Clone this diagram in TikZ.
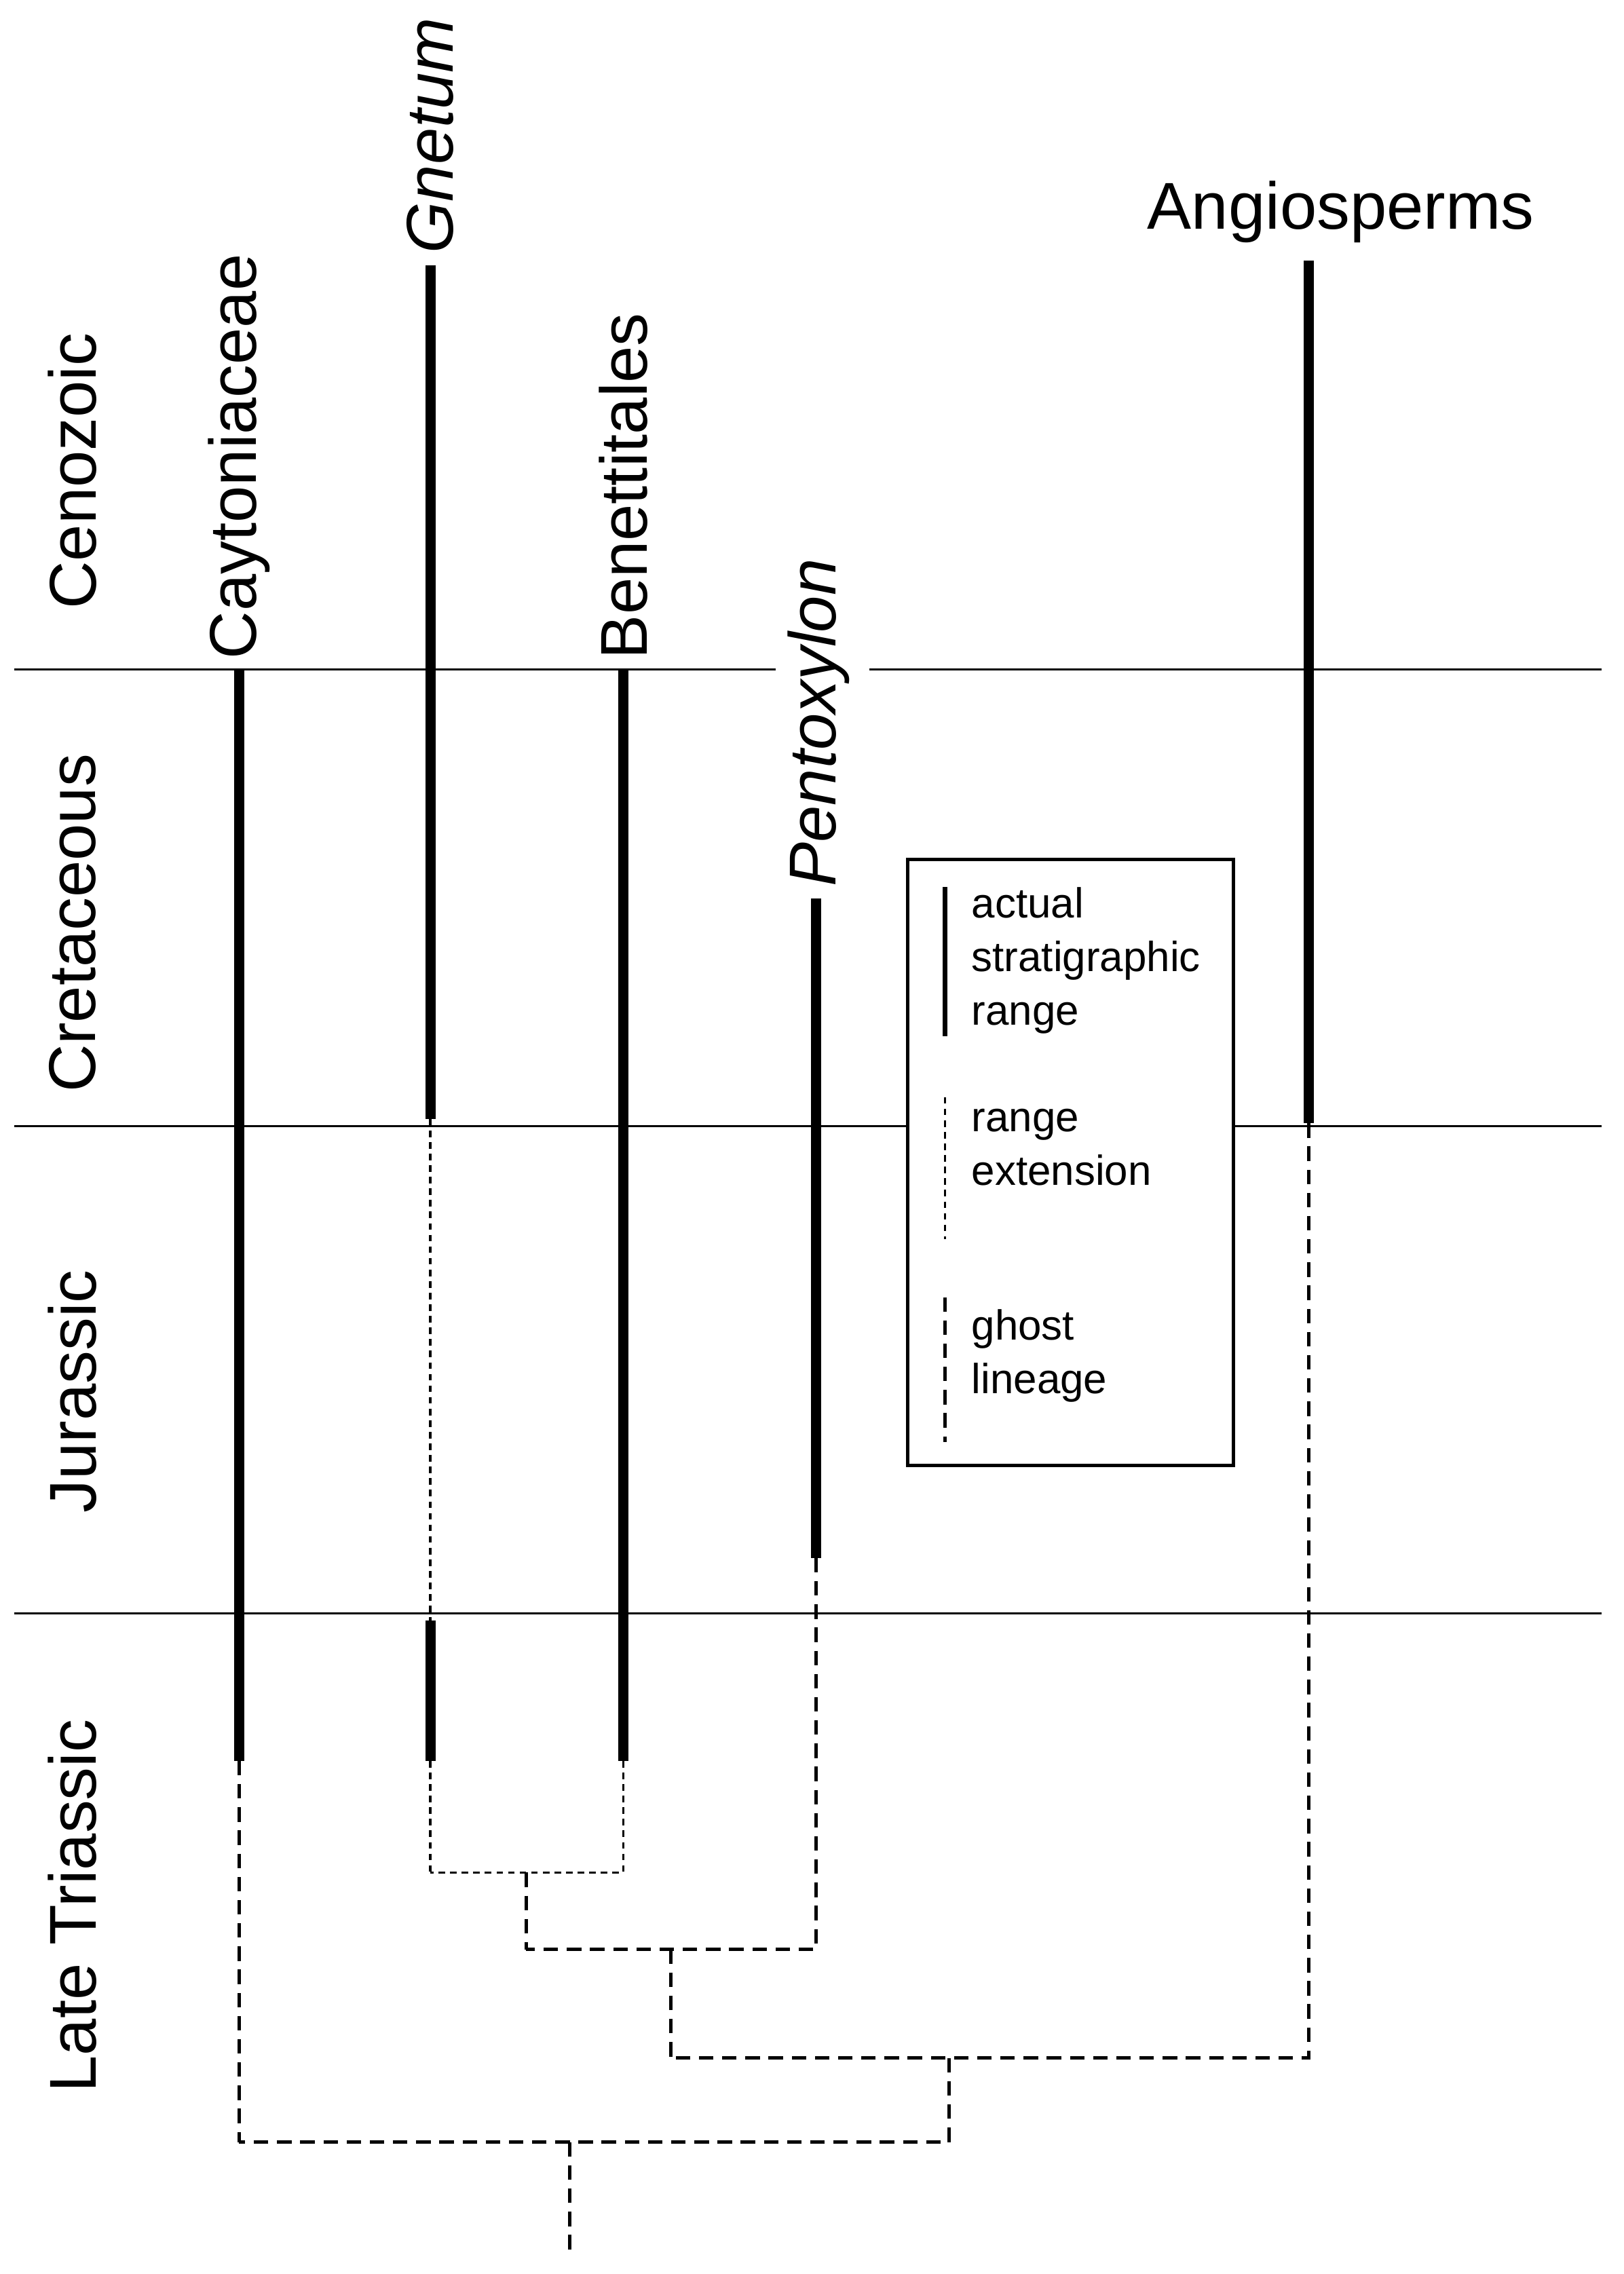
\documentclass[tikz,border=0pt]{standalone}
\usepackage{fontspec}
\setmainfont{Liberation Sans}
\begin{document}
\begin{tikzpicture}[x={(0.02cm,0)},y={(0,-0.02cm)},
 strat/.style={line width=4pt},
 extline/.style={line width=1pt,dash pattern=on 0.09cm off 0.07cm},
 ghostline/.style={line width=1.3pt,dash pattern=on 0.2cm off 0.12cm},
 eraline/.style={line width=0.8pt},
 lab/.style={font=\fontsize{26}{30}\selectfont,inner sep=0pt},
 leg/.style={font=\fontsize{16.5}{21}\selectfont,align=left,anchor=north west,inner sep=0pt}]
\useasboundingbox (0,0) rectangle (1120,1569);
\coordinate (e1a) at (10,462); \coordinate (e1b) at (535,462);
\coordinate (e1c) at (600,462); \coordinate (e1d) at (1105,462);
\coordinate (e2a) at (10,777); \coordinate (e2b) at (625,777);
\coordinate (e2c) at (850,777); \coordinate (e2d) at (1105,777);
\coordinate (e3a) at (10,1113); \coordinate (e3b) at (1105,1113);
\draw[eraline] (e1a)--(e1b) (e1c)--(e1d) (e2a)--(e2b) (e2c)--(e2d) (e3a)--(e3b);
\node[lab,rotate=90] (cen) at (50,325) {Cenozoic};
\node[lab,rotate=90] (cre) at (50,637) {Cretaceous};
\node[lab,rotate=90] (jur) at (50,960) {Jurassic};
\node[lab,rotate=90] (ltr) at (50,1315) {Late Triassic};
\node[lab,rotate=90,anchor=west] (cay) at (165,455) {Caytoniaceae};
\coordinate (c1) at (165,462); \coordinate (c2) at (165,1215); \coordinate (c3) at (165,1478);
\draw[strat] (c1)--(c2);
\draw[ghostline] (c2)--(c3);
\node[lab,rotate=90,anchor=west] (gne) at (297,175) {\itshape Gnetum};
\coordinate (g1) at (297,183); \coordinate (g2) at (297,772); \coordinate (g3) at (297,1118);
\coordinate (g4) at (297,1215); \coordinate (g5) at (297,1292);
\draw[strat] (g1)--(g2) (g3)--(g4);
\draw[extline] (g2)--(g3) (g4)--(g5);
\node[lab,rotate=90,anchor=west] (ben) at (430,455) {Benettitales};
\coordinate (b1) at (430,462); \coordinate (b2) at (430,1215); \coordinate (b3) at (430,1292);
\draw[strat] (b1)--(b2);
\draw[extline] (b2)--(b3)--(g5);
\coordinate (n1) at (363,1292); \coordinate (n1b) at (363,1345);
\draw[ghostline] (n1)--(n1b);
\node[lab,rotate=90,anchor=west] (pen) at (565,612) {\itshape Pentoxylon};
\coordinate (p1) at (563,620); \coordinate (p2) at (563,1075); \coordinate (p3) at (563,1345);
\draw[strat] (p1)--(p2);
\draw[ghostline] (p2)--(p3)--(n1b);
\coordinate (n2) at (463,1345); \coordinate (n2b) at (463,1420);
\draw[ghostline] (n2)--(n2b);
\node[lab,anchor=south] (ang) at (925,168) {Angiosperms};
\coordinate (a1) at (903,180); \coordinate (a2) at (903,775); \coordinate (a3) at (903,1420);
\draw[strat] (a1)--(a2);
\draw[ghostline] (a2)--(a3)--(n2b);
\coordinate (n3) at (655,1420); \coordinate (n3b) at (655,1478);
\draw[ghostline] (n3)--(n3b)--(c3);
\coordinate (r1) at (393,1478); \coordinate (r2) at (393,1555);
\draw[ghostline] (r1)--(r2);
\node[draw,line width=1.3pt,minimum width=4.5cm,minimum height=8.36cm,anchor=north west,inner sep=0pt] (box) at (625,592) {};
\coordinate (l1) at (652,612); \coordinate (l2) at (652,715);
\coordinate (l3) at (652,757); \coordinate (l4) at (652,855);
\coordinate (l5) at (652,895); \coordinate (l6) at (652,995);
\draw[line width=2pt] (l1)--(l2);
\draw[extline] (l3)--(l4);
\draw[ghostline] (l5)--(l6);
\node[leg] (t1) at (670,612) {actual\\stratigraphic\\range};
\node[leg] (t2) at (670,765) {range\\extension};
\node[leg] (t3) at (670,903) {ghost\\lineage};
\end{tikzpicture}
\end{document}
